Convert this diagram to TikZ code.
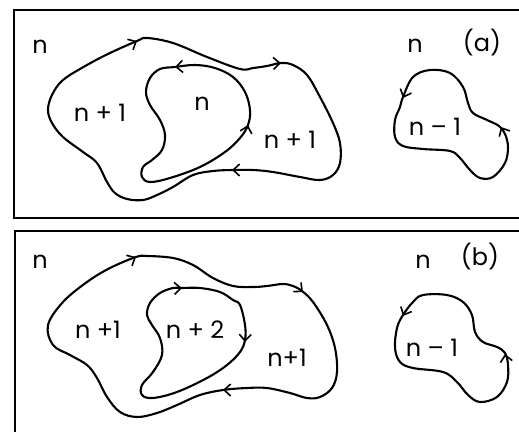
\documentclass[tikz,border=0pt]{standalone}
\usepackage{fontspec}
\setmainfont{Poppins}
\usetikzlibrary{arrows.meta}
\tikzset{
  curve/.style={line width=2.1pt, line join=round},
  frame/.style={line width=1.2pt},
  tipline/.style={line width=1.6pt, -{Straight Barb[length=6.5pt,width=12pt]}},
  lab/.style={font=\fontsize{24}{26}\selectfont, inner sep=0pt},
}
% arrowhead whose apex is at (#1,#2), pointing along angle #3
\newcommand\tipat[3]{\draw[tipline] ([shift={(#3:-3)}]#1,#2) -- (#1,#2);}
\begin{document}
\begin{tikzpicture}[x=1pt,y=-1pt]
\useasboundingbox (0,0) rectangle (519,431);

% panel frames
\draw[frame] (14,10) rectangle (540,218);
\draw[frame] (15,231) rectangle (540,450);

%% ---------- panel (a) ----------
% outer loop
\draw[curve] plot[smooth cycle, tension=0.6] coordinates {
  (137,41) (147,38) (173,43) (207,57) (240,69) (253,68) (267,66) (281,63)
  (293,65) (307,75) (320,97) (333,123) (340,143) (340,163) (333,175)
  (320,180) (300,177) (273,172) (253,170) (233,170) (213,171) (193,175)
  (173,187) (157,195) (143,200) (127,199) (115,193) (107,182) (97,163)
  (83,152) (63,137) (52,123) (48,110) (52,95) (63,80) (87,65) (110,53)};
% inner loop
\draw[curve] plot[smooth cycle, tension=0.6] coordinates {
  (175,67) (160,69) (150,78) (146,92) (150,105) (160,120) (165,135)
  (162,150) (152,160) (143,167) (142,177) (150,182) (170,178) (200,167)
  (225,152) (240,138) (248,125) (250,110) (245,92) (233,77) (215,68) (195,65)};
% small loop
\draw[curve] plot[smooth cycle, tension=0.6] coordinates {
  (403,97) (400,107) (395,120) (395,137) (403,146) (423,149) (450,151)
  (460,158) (470,170) (480,178) (493,177) (505,163) (508,147) (505,134)
  (499,126) (487,120) (473,113) (468,103) (463,87) (450,73) (430,70) (413,77)};

\tipat{137}{41}{-28}
\tipat{281}{63}{-3}
\tipat{232}{170}{180}
\tipat{175}{67}{176}
\tipat{248}{125}{-75}
\tipat{403}{98}{112}
\tipat{501}{127}{-118}

\node[lab] (a-out)   at (40,47)   {n};
\node[lab] (a-left)  at (100,113) {n + 1};
\node[lab] (a-in)    at (202,104) {n};
\node[lab] (a-right) at (290,140) {n + 1};
\node[lab] (a-far)   at (415,46)  {n};
\node[lab] (a-tag)   at (482,43)  {(a)};
\node[lab] (a-small) at (435,127) {n – 1};

%% ---------- panel (b) ----------
% outer loop
\draw[curve] plot[smooth cycle, tension=0.6] coordinates {
  (136,257) (147,256) (173,258) (193,265) (213,278) (233,286) (253,287)
  (267,286) (283,284) (293,286) (302,291) (313,302) (327,325) (335,348)
  (337,372) (332,388) (320,397) (307,398) (290,393) (267,388) (247,388)
  (223,390) (200,395) (177,405) (157,413) (137,417) (120,412) (107,397)
  (97,378) (87,365) (70,355) (53,345) (48,325) (63,302) (87,282) (110,268)};
% inner loop
\draw[curve] plot[smooth cycle, tension=0.6] coordinates {
  (182,288) (200,288) (220,292) (233,300) (240,305) (245,325) (245,340)
  (240,352) (227,365) (207,378) (177,392) (153,398) (142,395) (142,385)
  (153,372) (162,355) (160,338) (152,325) (147,315) (150,303) (160,293) (173,288)};
% small loop
\draw[curve] plot[smooth cycle, tension=0.6] coordinates {
  (403,315) (397,328) (395,348) (400,362) (413,368) (443,372) (457,382)
  (468,395) (480,402) (497,397) (507,382) (508,365) (505,353) (497,347)
  (483,342) (475,332) (472,315) (463,302) (447,295) (423,295) (413,302)};

\tipat{136}{257}{-28}
\tipat{303}{292}{40}
\tipat{223}{390}{180}
\tipat{182}{288}{-3}
\tipat{245}{342}{92}
\tipat{403}{316}{115}
\tipat{505}{354}{-100}

\node[lab] (b-out)   at (40,262)  {n};
\node[lab] (b-left)  at (98,330)  {n +1};
\node[lab] (b-in)    at (195,330) {n + 2};
\node[lab] (b-right) at (287,358) {n+1};
\node[lab] (b-far)   at (423,262) {n};
\node[lab] (b-tag)   at (480,257) {(b)};
\node[lab] (b-small) at (432,348) {n – 1};
\end{tikzpicture}
\end{document}
